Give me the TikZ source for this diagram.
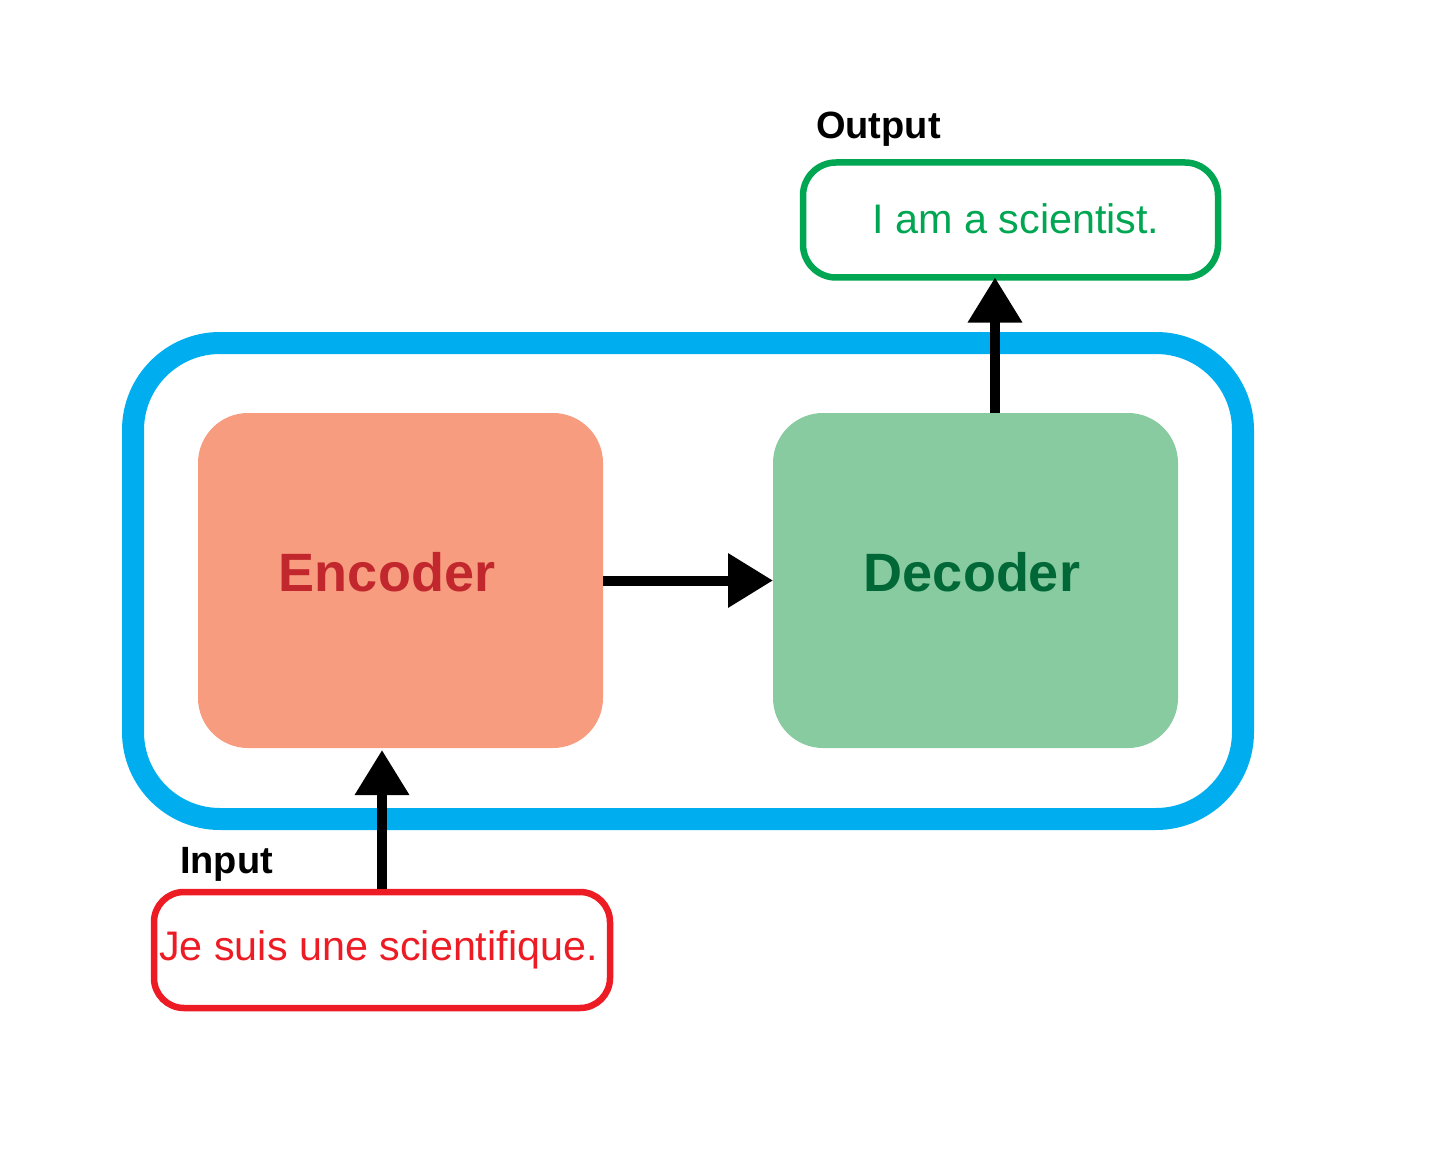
\documentclass[tikz,border=0pt]{standalone}
\usepackage{fontspec}
\setmainfont{Liberation Sans}
\usetikzlibrary{arrows.meta}
\definecolor{cblue}{HTML}{00AEEF}
\definecolor{encfill}{HTML}{F89C7F}
\definecolor{enctext}{HTML}{C1272D}
\definecolor{decfill}{HTML}{89CBA0}
\definecolor{dectext}{HTML}{006837}
\definecolor{outgreen}{HTML}{00A651}
\definecolor{inred}{HTML}{ED1C24}
\begin{document}
\begin{tikzpicture}[x=1pt,y=-1pt,
 block/.style={rectangle,rounded corners=50pt,minimum width=405pt,minimum height=335pt,inner sep=0pt,outer sep=0pt},
 txtbox/.style={rectangle,draw,line width=6.5pt,inner sep=0pt,outer sep=0pt},
 arr/.style={line width=10pt,-{Triangle[length=45pt,width=52pt]}},
 big/.style={font=\fontsize{54}{60}\selectfont\bfseries,anchor=base,inner sep=0pt},
 lab/.style={font=\fontsize{38}{42}\selectfont\bfseries,anchor=base west,inner sep=0pt},
 sent/.style={font=\fontsize{41.3}{48}\selectfont,anchor=base,inner sep=0pt}]
\useasboundingbox (0,0) rectangle (1437,1150);
\node[rectangle,draw=cblue,line width=22pt,rounded corners=87pt,minimum width=1110pt,minimum height=476pt,inner sep=0pt,outer sep=0pt] (frame) at (688,581) {};
\node[block,fill=encfill] (enc) at (400.5,580.5) {};
\node[block,fill=decfill] (dec) at (975.5,580.5) {};
\node[big,text=enctext] (enct) at (387,591) {Encoder};
\node[big,text=dectext] (dect) at (972,591) {Decoder};
\node[txtbox,draw=outgreen,rounded corners=33pt,minimum width=415pt,minimum height=115pt] (out) at (1010.5,220) {};
\node[sent,text=outgreen] (outt) at (1016,234) {I am a scientist.};
\node[txtbox,draw=inred,rounded corners=30pt,minimum width=456pt,minimum height=116pt] (inp) at (382,950) {};
\node[sent,text=inred] (inpt) at (378.5,960) {Je suis une scientifique.};
\node[lab] (outl) at (816,139) {Output};
\node[lab] (inpl) at (180,873) {Input};
\draw[arr] (enc.east) -- (dec.west);
\draw[arr,shorten <=3pt,shorten >=2pt] (inp.north) -- (inp.north |- enc.south);
\draw[arr] ([xshift=19.5pt]dec.north) -- ([xshift=19.5pt]dec.north |- out.south);
\end{tikzpicture}
\end{document}
